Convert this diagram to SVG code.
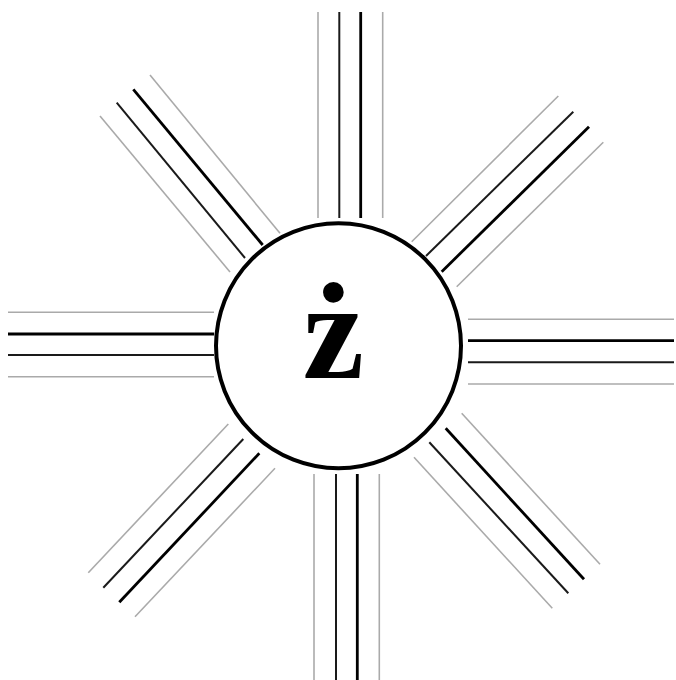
<svg xmlns="http://www.w3.org/2000/svg" width="676" height="680" viewBox="0 0 676 680">
<style>
.g{stroke:#aaaaaa;stroke-width:1.6;fill:none}
.b{stroke:#1a1a1a;stroke-width:2;fill:none}
.k{stroke:#000;stroke-width:2.8;fill:none}
.t{font-family:"Liberation Serif","Times New Roman",serif;font-weight:bold;font-size:138px;fill:#000}
</style>
<rect width="676" height="680" fill="#fff"/>
<g id="connectors">
<g id="ray-top">
<line class="g" x1="318" y1="12" x2="318" y2="218"/>
<line class="b" x1="339.3" y1="12" x2="339.3" y2="218"/>
<line class="k" x1="360.7" y1="12" x2="360.7" y2="218"/>
<line class="g" x1="382.7" y1="12" x2="382.7" y2="218"/>
</g>
<g id="ray-bottom">
<line class="g" x1="314" y1="474" x2="314" y2="680"/>
<line class="b" x1="336" y1="474" x2="336" y2="680"/>
<line class="k" x1="357.3" y1="474" x2="357.3" y2="680"/>
<line class="g" x1="379.3" y1="474" x2="379.3" y2="680"/>
</g>
<g id="ray-left">
<line class="g" x1="8" y1="312.3" x2="214" y2="312.3"/>
<line class="k" x1="8" y1="334" x2="214" y2="334"/>
<line class="b" x1="8" y1="355" x2="214" y2="355"/>
<line class="g" x1="8" y1="376.7" x2="214" y2="376.7"/>
</g>
<g id="ray-right">
<line class="g" x1="468" y1="319.3" x2="674" y2="319.3"/>
<line class="k" x1="468" y1="340.7" x2="674" y2="340.7"/>
<line class="b" x1="468" y1="362.3" x2="674" y2="362.3"/>
<line class="g" x1="468" y1="384" x2="674" y2="384"/>
</g>
<g id="ray-upper-left">
<line class="g" x1="100" y1="116" x2="230" y2="272"/>
<line class="b" x1="116.7" y1="102.7" x2="245" y2="258"/>
<line class="k" x1="133.3" y1="89.3" x2="262.7" y2="245"/>
<line class="g" x1="150" y1="75" x2="280" y2="233.3"/>
</g>
<g id="ray-upper-right">
<line class="g" x1="558.3" y1="96" x2="411.7" y2="241.7"/>
<line class="b" x1="573.3" y1="111.7" x2="426" y2="256"/>
<line class="k" x1="589" y1="126.7" x2="441.7" y2="271.7"/>
<line class="g" x1="603.3" y1="142.3" x2="456.7" y2="286.7"/>
</g>
<g id="ray-lower-right">
<line class="g" x1="461.7" y1="413.3" x2="600" y2="564.3"/>
<line class="k" x1="445.7" y1="428.3" x2="584" y2="579.3"/>
<line class="b" x1="429.3" y1="442.3" x2="568.3" y2="593.3"/>
<line class="g" x1="414" y1="457.3" x2="552.3" y2="608.3"/>
</g>
<g id="ray-lower-left">
<line class="g" x1="228.3" y1="424" x2="88.3" y2="572.7"/>
<line class="b" x1="243.3" y1="439" x2="103.3" y2="587.7"/>
<line class="k" x1="259.3" y1="453.3" x2="119.3" y2="602.3"/>
<line class="g" x1="275" y1="468.3" x2="135" y2="616.7"/>
</g>
</g>
<g id="center-node">
<circle cx="338.5" cy="345.8" r="122.5" fill="#fff" stroke="#000" stroke-width="4"/>
<text class="t" x="333.5" y="378" text-anchor="middle">ż</text>
</g>
</svg>
